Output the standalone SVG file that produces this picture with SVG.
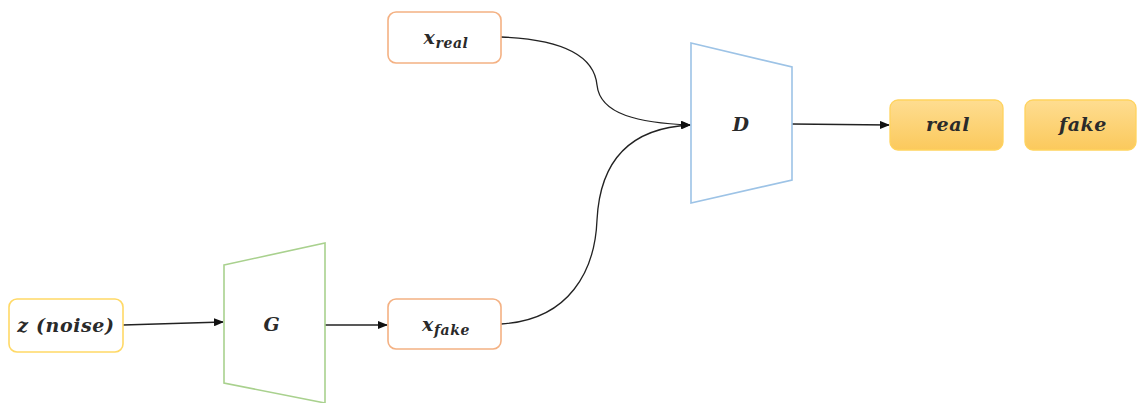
<svg xmlns="http://www.w3.org/2000/svg" width="1137" height="403" viewBox="0 0 1137 403">
<style>
.box{fill:#fff;stroke-width:1.6}
.orange{stroke:#f4b183}
.yellow{stroke:#ffd966}
.out{fill:url(#gold);stroke:#ffd35e;stroke-width:1.3}
.lbl{font-family:"DejaVu Serif",serif;font-style:italic;font-weight:bold;font-size:19px;letter-spacing:0.6px;fill:#2a2a2a;text-anchor:middle}
.sub{font-size:14px}
.conn{fill:none;stroke:#222;stroke-width:1.3}
</style>
<defs>
<linearGradient id="gold" x1="0" y1="0" x2="0" y2="1">
<stop offset="0" stop-color="#fedd91"/>
<stop offset="1" stop-color="#fbc95c"/>
</linearGradient>
<marker id="arr" markerWidth="10" markerHeight="8" refX="9" refY="4" orient="auto" markerUnits="userSpaceOnUse">
<path d="M0,0 L10,4 L0,8 Z" fill="#111"/>
</marker>
</defs>
<rect width="1137" height="403" fill="#fff"/>
<g id="connectors">
<path class="conn" d="M123,325 L223,322" marker-end="url(#arr)"/>
<path class="conn" d="M325,325 L387,325" marker-end="url(#arr)"/>
<path class="conn" d="M501,37 C580,40 595,65 597,85 C600,115 640,123 690,125" marker-end="url(#arr)"/>
<path class="conn" d="M501,324 C570,320 595,270 597,220 C600,160 630,128 690,125" marker-end="url(#arr)"/>
<path class="conn" d="M792,124 L889,125" marker-end="url(#arr)"/>
</g>
<g id="x_real">
<rect class="box orange" x="388" y="12" width="113" height="51" rx="8"/>
<text class="lbl" x="446" y="44">x<tspan class="sub" dy="4">real</tspan></text>
</g>
<g id="z_noise">
<rect class="box yellow" x="9" y="299" width="114" height="53" rx="8"/>
<text class="lbl" x="66" y="332">z (noise)</text>
</g>
<g id="G">
<polygon points="224,265 325,243 325,403 224,383" fill="#fff" stroke="#a9d18e" stroke-width="1.6"/>
<text class="lbl" x="272" y="331">G</text>
</g>
<g id="x_fake">
<rect class="box orange" x="388" y="299" width="113" height="50" rx="8"/>
<text class="lbl" x="446" y="331">x<tspan class="sub" dy="4">fake</tspan></text>
</g>
<g id="D">
<polygon points="691,43 792,67 792,180 691,203" fill="#fff" stroke="#9dc3e6" stroke-width="1.6"/>
<text class="lbl" x="741" y="131">D</text>
</g>
<g id="real">
<rect class="out" x="890" y="100" width="113" height="50" rx="8"/>
<text class="lbl" x="948" y="131">real</text>
</g>
<g id="fake">
<rect class="out" x="1025" y="100" width="111" height="50" rx="8"/>
<text class="lbl" x="1083" y="131">fake</text>
</g>
</svg>
